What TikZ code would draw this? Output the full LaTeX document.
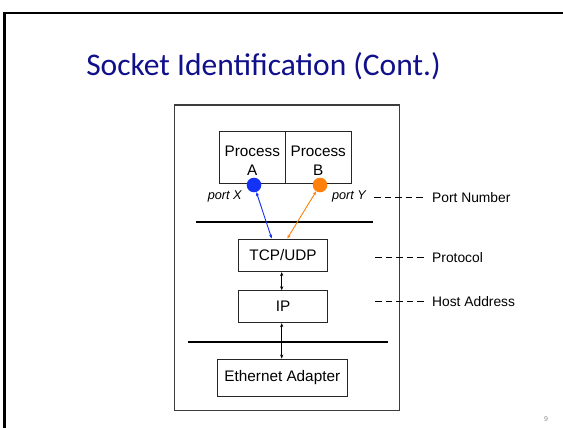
\documentclass[tikz,border=0pt]{standalone}
\usepackage{fontspec}
\setmainfont{Liberation Sans}
\newfontfamily\titlefont{Carlito}
\usetikzlibrary{arrows.meta,calc}
\definecolor{titleblue}{RGB}{16,16,138}
\definecolor{pblue}{RGB}{20,50,245}
\definecolor{porange}{RGB}{255,128,10}
\definecolor{boxgray}{RGB}{60,60,60}
\begin{document}
\begin{tikzpicture}[x=1pt,y=-1pt,
  box/.style={draw=black!85,line width=0.9pt,inner sep=0pt,font=\fontsize{15.3}{18.3}\selectfont},
  txt/.style={inner sep=0pt,font=\fontsize{15.3}{18.3}\selectfont,align=center},
  lbl/.style={inner xsep=7pt,inner ysep=0pt,anchor=west,font=\fontsize{13.8}{16}\selectfont},
  portlbl/.style={inner sep=0pt,font=\fontsize{12.7}{14}\selectfont\itshape},
  leader/.style={draw=black,line width=1.1pt,dash pattern=on 6.5pt off 4pt},
  bar/.style={draw=black,line width=2.2pt},
  dot/.style={circle,inner sep=0pt,minimum size=14.6pt},
  dbl/.style={{Stealth[length=4pt,width=3.2pt]}-{Stealth[length=4pt,width=3.2pt]},line width=0.9pt}
]
\useasboundingbox (0,0) rectangle (563,428);
\fill[white] (0,0) rectangle (563,428);
% slide frame
\draw[line width=2.6pt,black] (4.6,430) -- (4.6,13) -- (565,13);
% title
\node[inner sep=0pt,text=titleblue,font=\titlefont\fontsize{31.5}{36}\selectfont] (title) at (263.5,66) {Socket Identification (Cont.)};
% inner frame
\draw[draw=boxgray,line width=1.4pt] (174.3,105) rectangle (399.3,410.5);
% process boxes
\node[box,minimum width=66pt,minimum height=52.3pt] (pa) at (252.3,157.2) {};
\node[box,minimum width=65.7pt,minimum height=52.3pt] (pb) at (318.2,157.2) {};
\node[txt] (ta) at (252.3,160.6) {Process\\A};
\node[txt] (tb) at (318.2,160.6) {Process\\B};
% sockets
\node[dot,fill=pblue] (ca) at (254,185) {};
\node[dot,fill=porange] (cb) at (320,185) {};
\node[portlbl] (px) at (224.7,196.7) {port X};
\node[portlbl] (py) at (349,196.7) {port Y};
% bars
\draw[bar] (196,222) -- (373,222);
\draw[bar] (188.3,342.3) -- (388.3,342.3);
% protocol stack
\node[box,minimum width=89.4pt,minimum height=32.7pt] (tcp) at (283,255.3) {TCP/UDP};
\node[box,minimum width=89.4pt,minimum height=32pt] (ip) at (283,306.7) {IP};
\node[box,minimum width=130pt,minimum height=37pt] (eth) at (282.3,377.5) {Ethernet Adapter};
% arrows
\draw[dbl,pblue] (ca) -- ([xshift=-11.3pt]tcp.north);
\draw[dbl,porange] (cb) -- ([xshift=4.3pt]tcp.north);
\draw[dbl,black] ([xshift=-1.3pt]tcp.south) -- ([xshift=-1.3pt]ip.north);
\draw[dbl,black] ([xshift=-1.3pt]ip.south) -- ([xshift=-0.6pt]eth.north);
% right labels
\node[lbl] (pn) at (425,197.3) {Port Number};
\node[lbl] (pr) at (425,257.3) {Protocol};
\node[lbl] (ha) at (425,301.7) {Host Address};
\coordinate (d1) at (374,197.3);
\coordinate (d2) at (375,257.3);
\coordinate (d3) at (375,301.7);
\draw[leader] (d1) -- (pn.west);
\draw[leader] (d2) -- (pr.west);
\draw[leader] (d3) -- (ha.west);
% page number
\node[inner sep=0pt,text=black!45,font=\fontsize{7}{8}\selectfont] (pg) at (546,419) {9};
\end{tikzpicture}
\end{document}
